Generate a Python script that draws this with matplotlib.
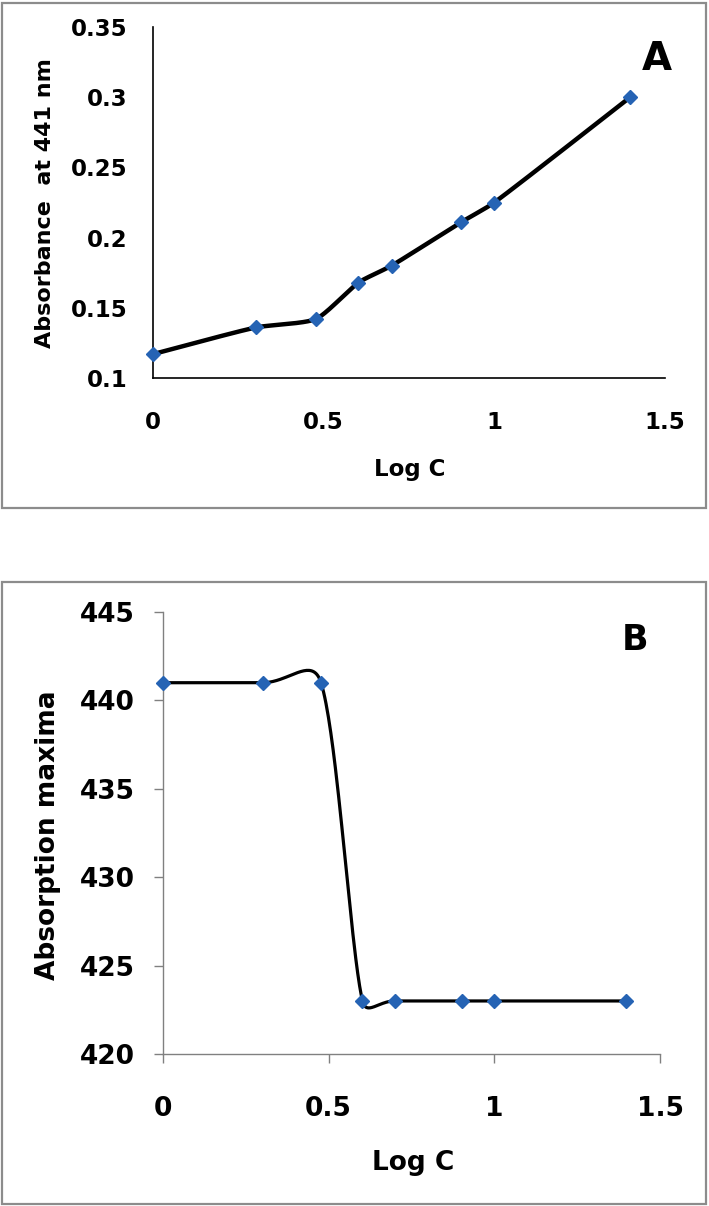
import numpy as np
import matplotlib
matplotlib.use('Agg')
from matplotlib import pyplot as plt
from matplotlib.patches import Rectangle

# data
log_c = [0, 0.301, 0.477, 0.602, 0.699, 0.903, 1.0, 1.398]
absorbance = [0.117, 0.136, 0.142, 0.168, 0.180, 0.211, 0.225, 0.300]
abs_maxima = [441, 441, 441, 423, 423, 423, 423, 423]

x_ticks = [0, 0.5, 1, 1.5]
x_ticklabels = ['0', '0.5', '1', '1.5']
a_yticks = [0.1, 0.15, 0.2, 0.25, 0.3, 0.35]
a_yticklabels = ['0.1', '0.15', '0.2', '0.25', '0.3', '0.35']
b_yticks = [420, 425, 430, 435, 440, 445]
b_yticklabels = ['420', '425', '430', '435', '440', '445']

plt.rcParams['font.family'] = ['DejaVu Sans']
plt.rcParams['font.weight'] = 'bold'

W, H = 709, 1206
fig = plt.figure(figsize=(W / 100, H / 100), dpi=100)


def px_axes(left, right, top, bottom):
    return fig.add_axes([left / W, 1 - bottom / H, (right - left) / W, (bottom - top) / H])


def smooth(ax, x, y, k=0.5, n=40):
    # excel-like smoothed line (bezier through points, computed in pixels)
    pts = ax.transData.transform(np.column_stack([x, y]))
    m = len(pts)
    out = [pts[0]]
    t = np.linspace(0, 1, n)[1:, None]
    for i in range(m - 1):
        p0 = pts[max(i - 1, 0)]
        p1 = pts[i]
        p2 = pts[i + 1]
        p3 = pts[min(i + 2, m - 1)]
        seg = np.hypot(*(p2 - p1))
        d1 = (p2 - p0) / 6
        d2 = (p3 - p1) / 6
        l1 = np.hypot(*d1)
        l2 = np.hypot(*d2)
        if l1 > k * seg:
            d1 = d1 * k * seg / l1
        if l2 > k * seg:
            d2 = d2 * k * seg / l2
        c1 = p1 + d1
        c2 = p2 - d2
        b = (1 - t) ** 3 * p1 + 3 * (1 - t) ** 2 * t * c1 + 3 * (1 - t) * t ** 2 * c2 + t ** 3 * p2
        out.extend(b)
    out = ax.transData.inverted().transform(np.array(out))
    return out[:, 0], out[:, 1]


marker_color = '#2563B4'

# panel boxes
fig.patches.append(Rectangle((2 / W, 1 - 508 / H), 704 / W, 505 / H, transform=fig.transFigure,
                             fill=False, edgecolor='#8c8c8c', lw=1.6))
fig.patches.append(Rectangle((2 / W, 1 - 1204 / H), 704 / W, 622 / H, transform=fig.transFigure,
                             fill=False, edgecolor='#8c8c8c', lw=1.6))

# ---- panel A
ax1 = px_axes(153, 665, 27, 378)
ax1.set_xlim(0, 1.5)
ax1.set_ylim(0.1, 0.35)
sx, sy = smooth(ax1, log_c, absorbance, k=0.2)
ax1.plot(sx, sy, color='black', lw=3.2, solid_capstyle='round', clip_on=False, zorder=2)
ax1.plot(log_c, absorbance, 'D', color=marker_color, markersize=6.8, clip_on=False, zorder=3)
ax1.spines['top'].set_visible(False)
ax1.spines['right'].set_visible(False)
for s in ['left', 'bottom']:
    ax1.spines[s].set_linewidth(1.2)
    ax1.spines[s].set_color('black')
ax1.set_xticks(x_ticks)
ax1.set_xticklabels(x_ticklabels)
ax1.set_yticks(a_yticks)
ax1.set_yticklabels(a_yticklabels)
ax1.tick_params(axis='x', length=0, pad=24, labelsize=16.5)
ax1.tick_params(axis='y', length=0, pad=18, labelsize=16.5)
ax1.set_xlabel('Log C', fontsize=16.5, fontweight='bold')
ax1.xaxis.label.set_va('center')
ax1.xaxis.set_label_coords(0.502, -0.262)
ax1.set_ylabel('Absorbance  at 441 nm', fontsize=16, fontweight='bold')
ax1.yaxis.label.set_va('center')
ax1.yaxis.set_label_coords(-0.211, 0.499)
fig.text(657 / W, 1 - 59 / H, 'A', fontsize=28, fontweight='bold', ha='center', va='center')

# ---- panel B
ax2 = px_axes(163, 660, 612, 1054)
ax2.set_xlim(0, 1.5)
ax2.set_ylim(420, 445)
sx, sy = smooth(ax2, log_c, abs_maxima)
ax2.plot(sx, sy, color='black', lw=2.3, solid_capstyle='round', clip_on=False, zorder=2)
ax2.plot(log_c, abs_maxima, 'D', color=marker_color, markersize=6.8, clip_on=False, zorder=3)
ax2.spines['top'].set_visible(False)
ax2.spines['right'].set_visible(False)
for s in ['left', 'bottom']:
    ax2.spines[s].set_linewidth(1.0)
    ax2.spines[s].set_color('#808080')
ax2.set_xticks(x_ticks)
ax2.set_xticklabels(x_ticklabels)
ax2.set_yticks(b_yticks)
ax2.set_yticklabels(b_yticklabels)
ax2.tick_params(axis='both', length=6.5, width=1.0, color='#808080', direction='out')
ax2.tick_params(axis='x', pad=24, labelsize=19)
ax2.tick_params(axis='y', pad=14, labelsize=19)
ax2.set_xlabel('Log C', fontsize=19, fontweight='bold')
ax2.xaxis.label.set_va('center')
ax2.xaxis.set_label_coords(0.503, -0.2466)
ax2.set_ylabel('Absorption maxima', fontsize=19, fontweight='bold')
ax2.yaxis.label.set_va('center')
ax2.yaxis.set_label_coords(-0.231, 0.495)
fig.text(635 / W, 1 - 640 / H, 'B', fontsize=25, fontweight='bold', ha='center', va='center')

fig.savefig('out.png', dpi=100)
